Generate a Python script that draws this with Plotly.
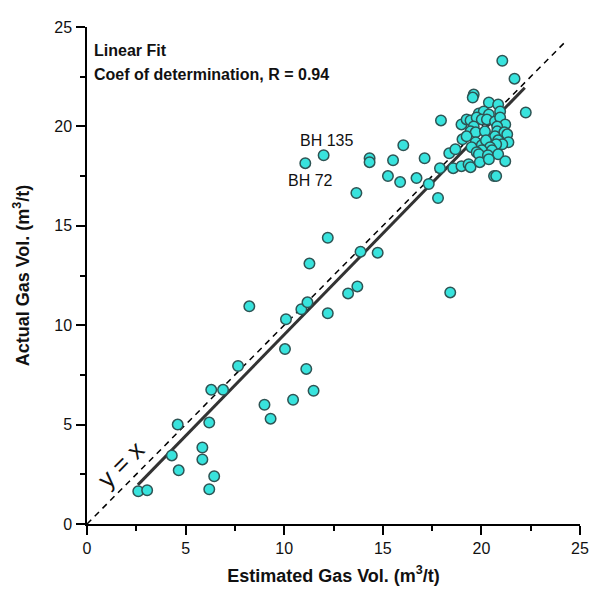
import plotly.graph_objects as go

# Estimated vs actual gas volume (m3/t)
est_gas = [
    2.6, 3.05, 4.6, 4.3, 4.65, 5.85, 5.85, 6.2, 6.45, 6.2, 6.3, 6.9,
    7.66, 8.23, 9.0, 9.31, 10.04, 10.09, 10.45, 10.87, 11.18, 11.12, 11.49, 11.28,
    12.21, 12.21, 13.24, 13.71, 13.87, 14.74, 13.66, 18.42,
    11.07, 12.0, 14.33, 14.33, 15.52, 16.04, 17.12, 15.26, 15.88, 16.71, 17.33, 17.8,
    17.9, 17.95, 18.37, 18.68, 18.57, 18.99, 19.04, 18.99, 19.35, 19.45, 19.61, 19.56,
    21.06, 21.68, 22.25,
    20.38, 20.85, 19.87, 20.12, 20.38, 20.95, 19.25, 19.45, 19.76, 20.02, 20.28, 20.69,
    20.95, 21.21, 19.61, 20.8, 19.45, 19.71, 20.18, 20.8, 21.16, 21.31, 19.25, 20.69,
    19.71, 20.02, 20.23, 20.85, 21.37, 21.06, 20.75, 19.5, 20.44, 20.02, 20.54, 19.76,
    19.87, 20.33, 20.85, 19.92, 20.38, 21.21, 20.64, 20.75,
]
act_gas = [
    1.65, 1.7, 5.0, 3.45, 2.7, 3.85, 3.25, 5.1, 2.4, 1.75, 6.75, 6.75,
    7.95, 10.95, 6.0, 5.3, 8.8, 10.3, 6.25, 10.8, 11.15, 7.8, 6.7, 13.1,
    14.4, 10.6, 11.6, 11.95, 13.7, 13.65, 16.65, 11.65,
    18.15, 18.55, 18.4, 18.2, 18.3, 19.05, 18.4, 17.5, 17.2, 17.4, 17.1, 16.4,
    17.9, 20.3, 18.65, 18.85, 17.9, 18.0, 19.35, 20.1, 18.1, 17.95, 21.6, 21.45,
    23.3, 22.4, 20.7,
    21.2, 21.1, 20.65, 20.75, 20.6, 20.75, 20.35, 20.3, 20.45, 20.35, 20.35, 20.25,
    20.45, 20.1, 20.0, 20.0, 19.75, 19.7, 19.75, 19.75, 19.7, 19.6, 19.5, 19.5,
    19.2, 19.05, 19.3, 19.3, 19.2, 19.1, 19.1, 18.95, 18.95, 18.8, 18.8, 18.7,
    18.6, 18.55, 18.6, 18.2, 18.35, 18.25, 17.5, 17.5,
]

fit_slope = 1.018
fit_intercept = -0.657
fit_x_range = [2.58, 22.2]
identity_range = [0, 24.2]

tick_vals = [0, 5, 10, 15, 20, 25]
tick_text = ["0", "5", "10", "15", "20", "25"]

bh_labels = ["BH 135", "BH 72"]
bh_label_x = [12.15, 11.35]
bh_label_y = [19.3, 17.27]

FONT = "Liberation Sans, Arial, sans-serif"

fig = go.Figure()

fig.add_trace(go.Scatter(
    x=identity_range, y=identity_range, mode="lines",
    line=dict(color="black", width=1.5, dash="6px,5px"),
    hoverinfo="skip", showlegend=False,
))
fig.add_trace(go.Scatter(
    x=fit_x_range, y=[fit_slope * v + fit_intercept for v in fit_x_range], mode="lines",
    line=dict(color="#333333", width=3),
    hoverinfo="skip", showlegend=False,
))
fig.add_trace(go.Scatter(
    x=est_gas, y=act_gas, mode="markers",
    marker=dict(size=10.5, color="#38E3DD", line=dict(color="#2E5454", width=1.5)),
    cliponaxis=False, showlegend=False,
))

for t, x, y in zip(bh_labels, bh_label_x, bh_label_y):
    fig.add_annotation(x=x, y=y, xref="x", yref="y", text=t, showarrow=False,
                       font=dict(family=FONT, size=16, color="#111"))

fig.add_annotation(x=1.72, y=3.0, xref="x", yref="y", text="y = x", showarrow=False,
                   textangle=-45, font=dict(family=FONT, size=25, color="#111"))

fig.add_annotation(x=0.25, y=23.8, xref="x", yref="y", text="<b>Linear Fit</b>", showarrow=False,
                   xanchor="left", font=dict(family=FONT, size=16, color="#111"))
fig.add_annotation(x=0.25, y=22.6, xref="x", yref="y",
                   text="<b>Coef of determination, R = 0.94</b>", showarrow=False,
                   xanchor="left", font=dict(family=FONT, size=16, color="#111"))

axis_common = dict(
    range=[0, 25], tickvals=tick_vals, ticktext=tick_text,
    showline=True, linecolor="black", linewidth=1.5,
    ticks="outside", ticklen=9, tickwidth=1.5, tickcolor="black",
    minor=dict(dtick=2.5, ticks="outside", ticklen=5, tickwidth=1.5, tickcolor="black", showgrid=False),
    showgrid=False, zeroline=False,
    tickfont=dict(family=FONT, size=16, color="#111"),
)

fig.update_xaxes(**axis_common, ticklabelstandoff=0,
                 title=dict(text="<b>Estimated Gas Vol. (m<sup>3</sup>/t)</b>", standoff=13,
                            font=dict(family=FONT, size=18, color="#111")))
fig.update_yaxes(**axis_common, ticklabelstandoff=1,
                 title=dict(text="<b>Actual Gas Vol. (m<sup>3</sup>/t)</b>", standoff=20,
                            font=dict(family=FONT, size=18, color="#111")))

fig.update_layout(
    width=607, height=596,
    margin=dict(l=79, r=35, t=11, b=80),
    plot_bgcolor="white", paper_bgcolor="white",
    showlegend=False,
)

fig.write_html("out.html")
